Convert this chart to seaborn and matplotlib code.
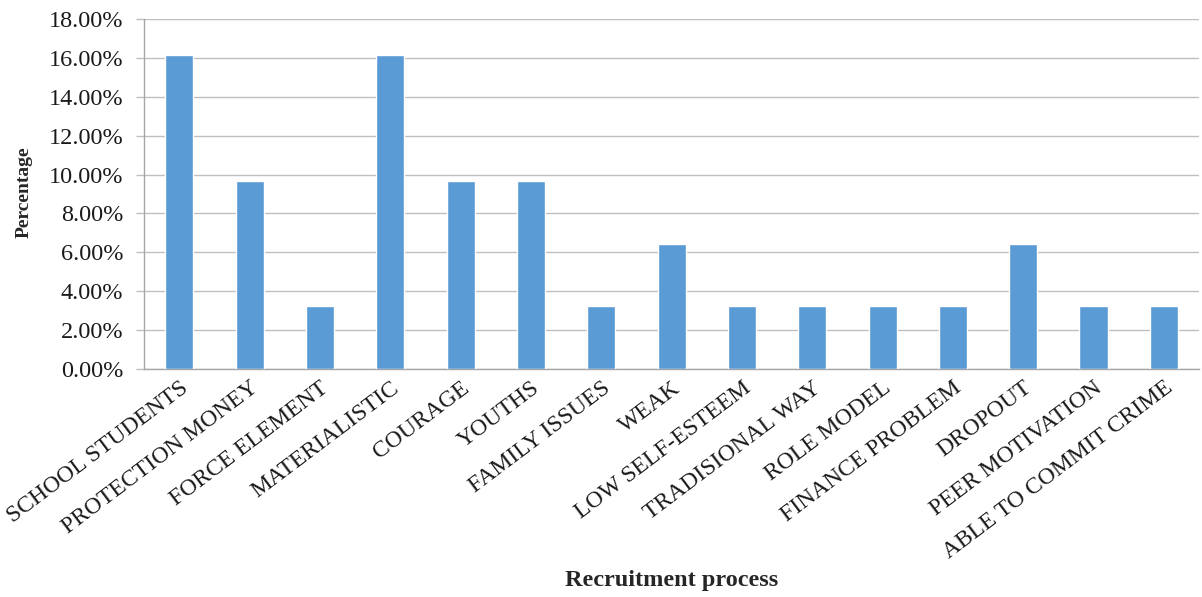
import matplotlib
matplotlib.use("Agg")
import matplotlib.pyplot as plt
import seaborn as sns
import pandas as pd
from matplotlib.ticker import FuncFormatter, MultipleLocator

categories = ["SCHOOL STUDENTS", "PROTECTION MONEY", "FORCE ELEMENT", "MATERIALISTIC",
              "COURAGE", "YOUTHS", "FAMILY ISSUES", "WEAK", "LOW SELF-ESTEEM",
              "TRADISIONAL WAY", "ROLE MODEL", "FINANCE PROBLEM", "DROPOUT",
              "PEER MOTIVATION", "ABLE TO COMMIT CRIME"]
percentages = [16.13, 9.68, 3.23, 16.13, 9.68, 9.68, 3.23, 6.45, 3.23,
               3.23, 3.23, 3.23, 6.45, 3.23, 3.23]

df = pd.DataFrame({"category": categories, "value": percentages})

sns.set_theme(style="white")
plt.rcParams["font.family"] = ["Liberation Serif", "DejaVu Serif"]

fig = plt.figure(figsize=(12.02, 5.97), dpi=100)
ax = fig.add_axes([0.12, 0.382, 0.8775, 0.586])

sns.barplot(data=df, x="category", y="value", color="#5B9BD5", saturation=1,
            width=0.4, ax=ax, zorder=3)

ax.set_ylim(0, 18)
ax.yaxis.set_major_locator(MultipleLocator(2))
ax.yaxis.set_major_formatter(FuncFormatter(lambda v, p: f"{v:.2f}%"))
ax.grid(axis="y", color="#BFBFBF", linewidth=1, zorder=0)
ax.set_axisbelow(True)

for s in ["top", "right"]:
    ax.spines[s].set_visible(False)
for s in ["left", "bottom"]:
    ax.spines[s].set_color("#A6A6A6")
    ax.spines[s].set_linewidth(1)

ax.tick_params(axis="y", which="major", length=6, width=1, color="#BFBFBF",
               labelsize=17.5, left=True, pad=9, labelcolor="#1a1a1a")
ax.tick_params(axis="x", length=0, labelsize=17, pad=6, labelcolor="#1a1a1a")
plt.setp(ax.get_xticklabels(), rotation=37, ha="right", rotation_mode="anchor")

ax.set_xlabel("Recruitment process", fontsize=17.5, fontweight="bold")
ax.xaxis.set_label_coords(0.5, -0.574)
ax.set_ylabel("Percentage", fontsize=14, fontweight="bold")
ax.yaxis.set_label_coords(-0.106, 0.506)

fig.savefig("out.png", dpi=100, facecolor="white")
